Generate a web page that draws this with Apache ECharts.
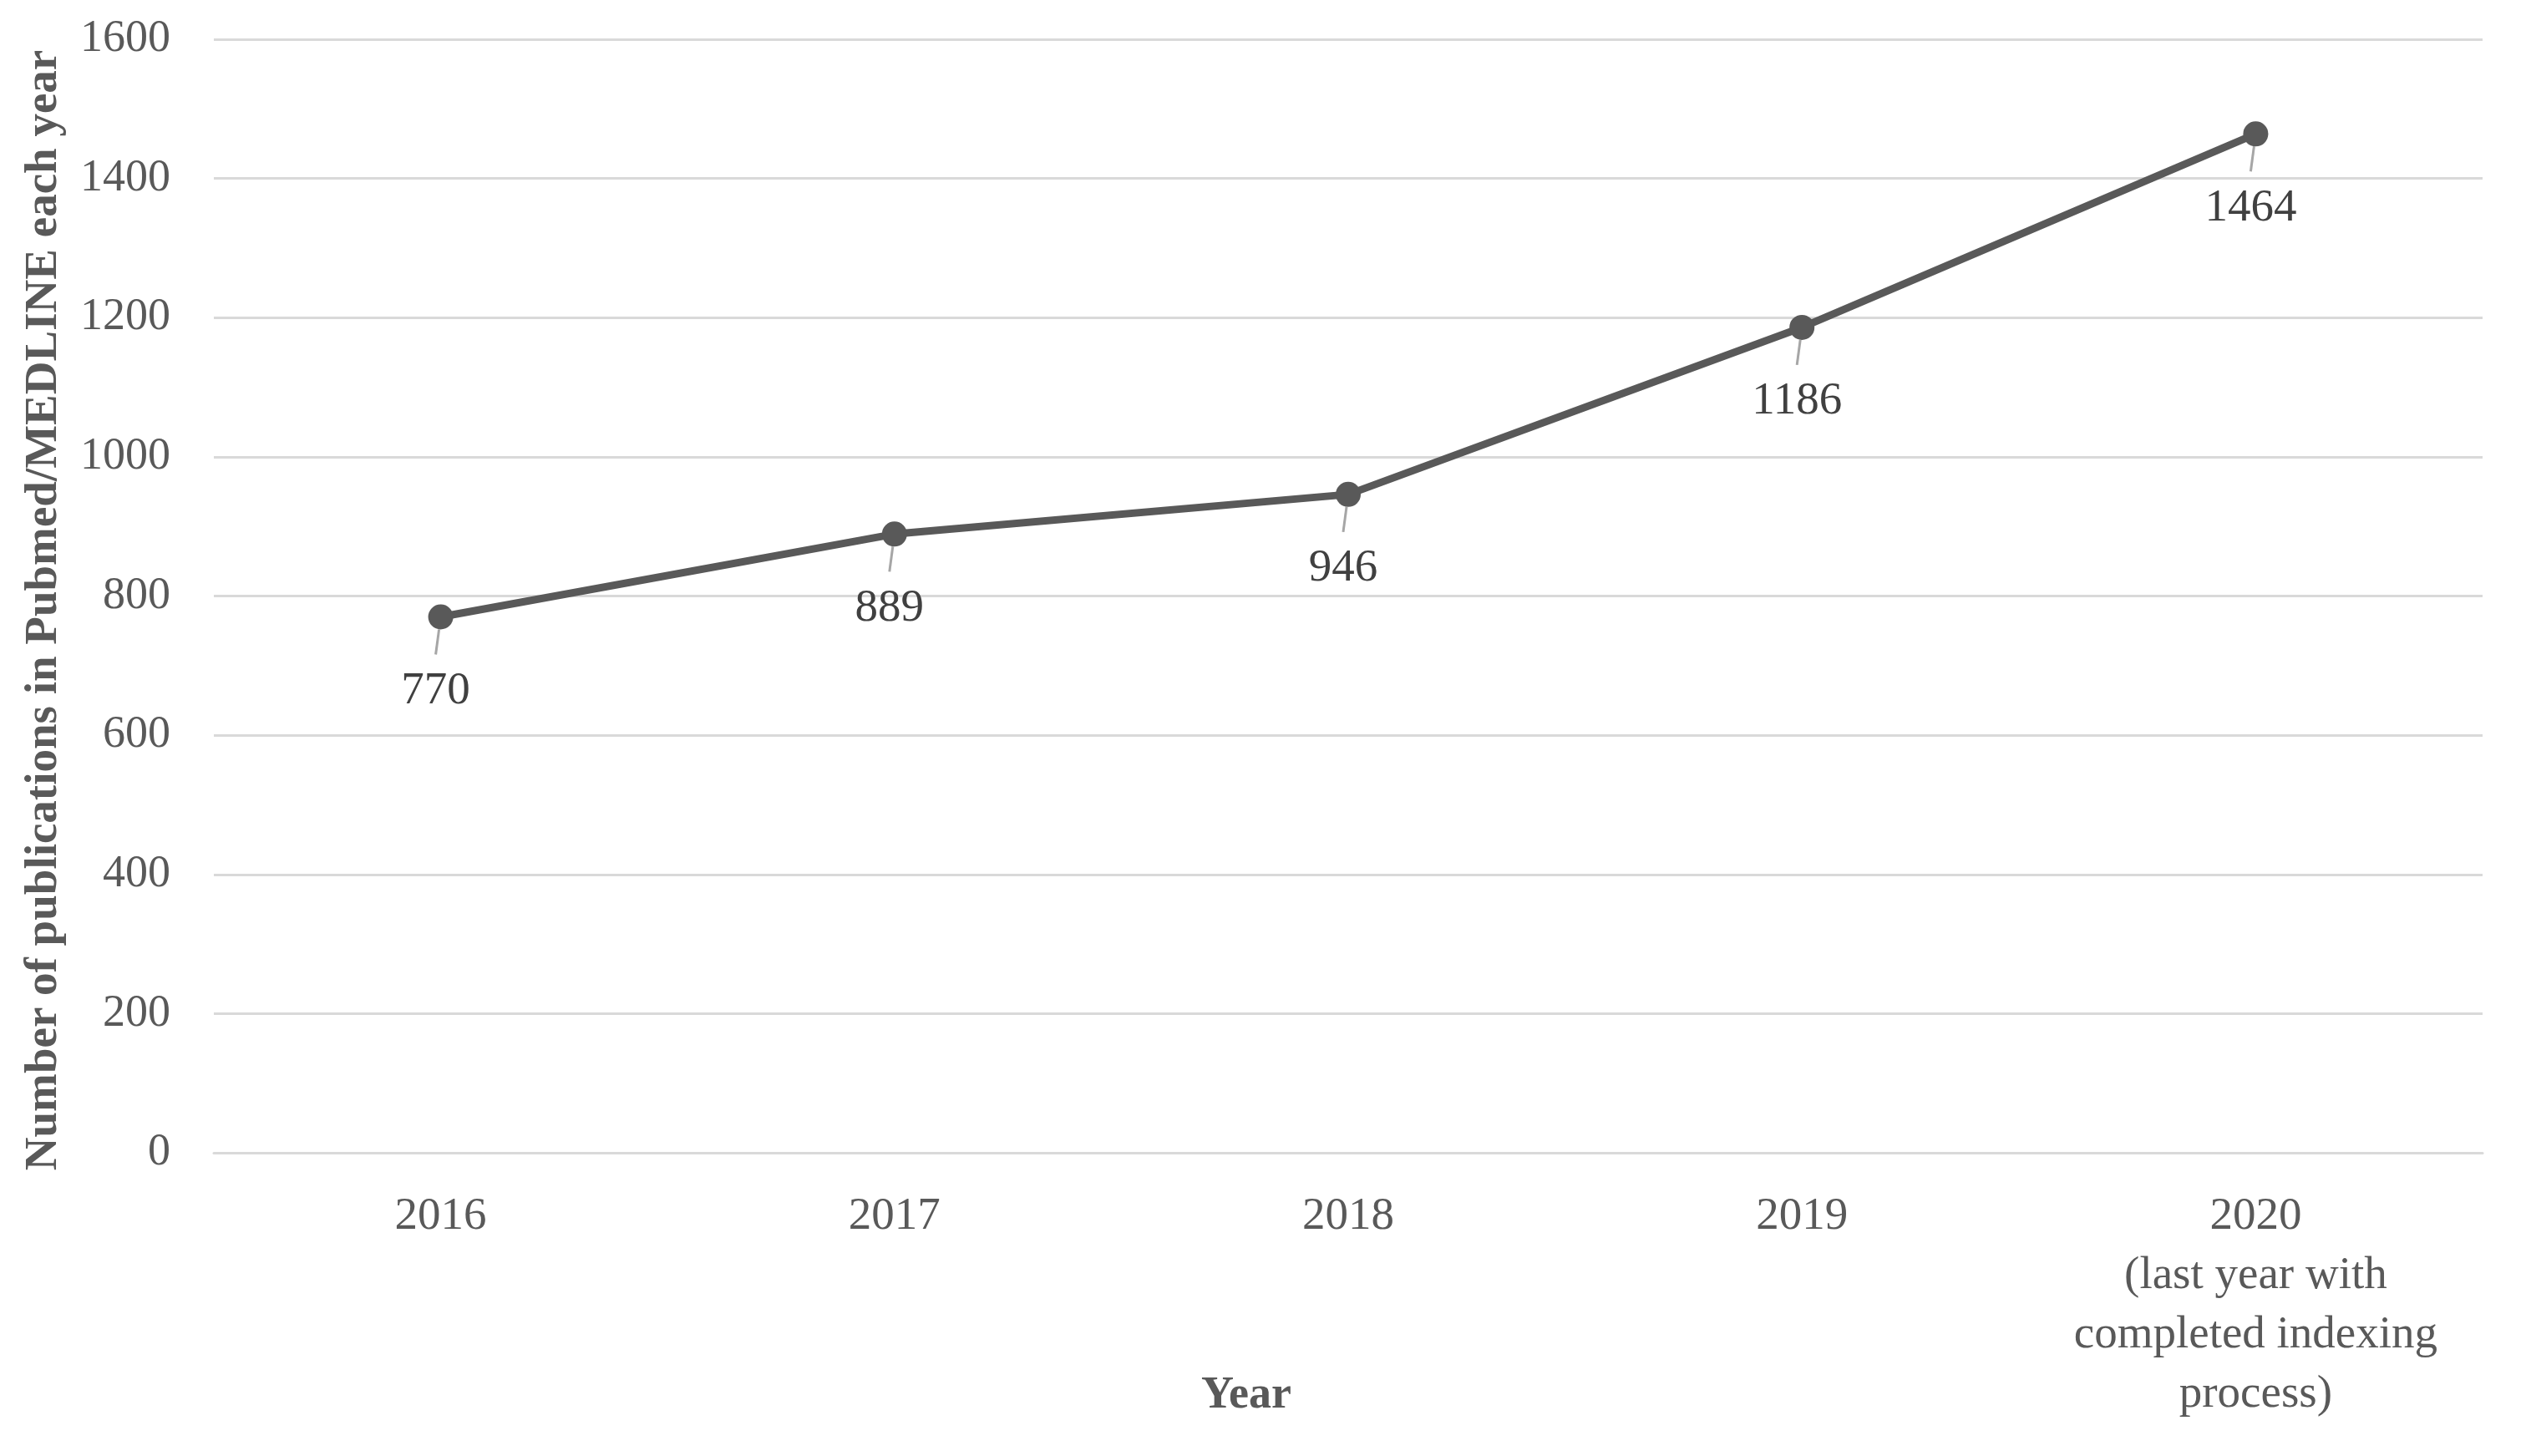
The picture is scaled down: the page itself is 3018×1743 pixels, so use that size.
<!DOCTYPE html>
<html><head><meta charset="utf-8">
<script src="https://cdn.jsdelivr.net/npm/echarts@6/dist/echarts.min.js"></script>
<style>html,body{margin:0;padding:0;background:#fff}#c{width:3018px;height:1743px}</style>
</head><body><div id="c"></div>
<script>
const categories = ['2016', '2017', '2018', '2019', '2020\n(last year with\ncompleted indexing\nprocess)'];
const publications = [770, 889, 946, 1186, 1464];
const yTicks = { min: 0, max: 1600, interval: 200 };

const FONT = '"Liberation Serif", "DejaVu Serif", serif';
const chart = echarts.init(document.getElementById('c'));
chart.setOption({
  backgroundColor: '#ffffff',
  animation: false,
  grid: { left: 256, right: 46, top: 47, bottom: 363 },
  xAxis: {
    type: 'category',
    data: categories,
    boundaryGap: true,
    axisLine: { show: true, lineStyle: { color: '#d9d9d9', width: 3 } },
    axisTick: { show: false },
    axisLabel: { color: '#595959', fontFamily: FONT, fontSize: 55, lineHeight: 71, margin: 41, interval: 0 }
  },
  yAxis: {
    type: 'value',
    min: yTicks.min, max: yTicks.max, interval: yTicks.interval,
    name: 'Number of publications in Pubmed/MEDLINE each year',
    nameLocation: 'middle',
    nameGap: 176,
    nameTextStyle: { color: '#595959', fontFamily: FONT, fontSize: 55, fontWeight: 'bold', padding: [0, 34, 0, 0] },
    axisLine: { show: false },
    axisTick: { show: false },
    splitLine: { lineStyle: { color: '#d9d9d9', width: 3 } },
    axisLabel: { color: '#595959', fontFamily: FONT, fontSize: 54, margin: 52, formatter: v => String(v) }
  },
  graphic: [{
    type: 'text', x: 1492, y: 1671,
    style: { text: 'Year', fill: '#595959', font: 'bold 54px ' + FONT, textAlign: 'center', textVerticalAlign: 'middle' }
  }],
  series: [{
    type: 'line',
    data: publications,
    symbol: 'circle',
    symbolSize: 30,
    itemStyle: { color: '#595959' },
    lineStyle: { color: '#595959', width: 9 },
    label: {
      show: true, position: 'bottom', distance: 30,
      color: '#404040', fontFamily: FONT, fontSize: 55, lineHeight: 56,
      padding: [16, 0, 0, 0]
    },
    labelLayout: { dx: -6 },
    labelLine: { show: true, lineStyle: { color: '#a6a6a6', width: 3 } }
  }]
});
</script></body></html>
